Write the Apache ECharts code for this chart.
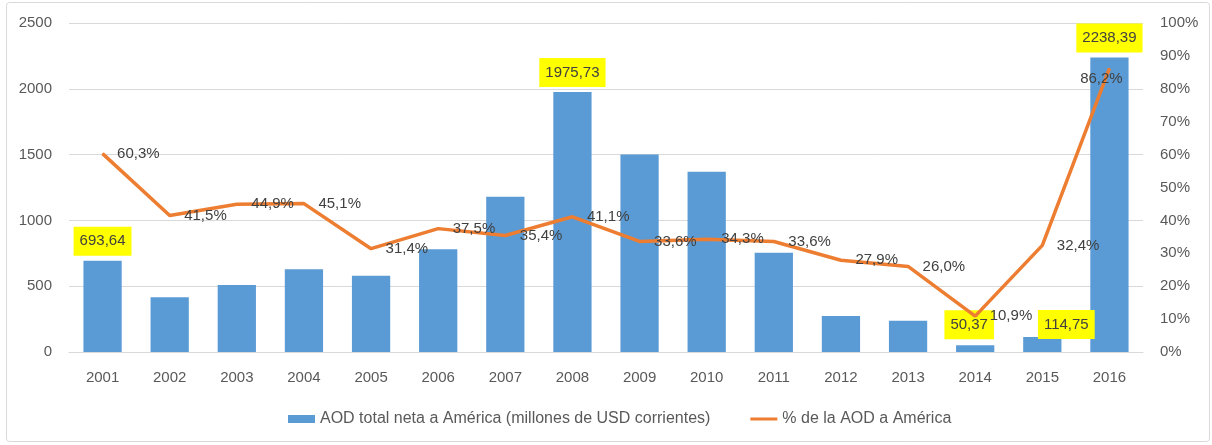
<!DOCTYPE html>
<html><head><meta charset="utf-8">
<script src="https://cdn.jsdelivr.net/npm/echarts@6/dist/echarts.min.js"></script>
<style>html,body{margin:0;padding:0;background:#fff;}#c{width:1212px;height:445px;}</style>
</head><body><div id="c"></div>
<script>
const years = ['2001','2002','2003','2004','2005','2006','2007','2008','2009','2010','2011','2012','2013','2014','2015','2016'];
const aodTotal = [693.64, 416, 509, 628, 580, 780, 1180, 1975.73, 1500, 1370, 755, 274, 238, 50.37, 114.75, 2238.39];
const aodPct = [60.3, 41.5, 44.9, 45.1, 31.4, 37.5, 35.4, 41.1, 33.6, 34.3, 33.6, 27.9, 26.0, 10.9, 32.4, 86.2];
const labelledYears = ['2001','2008','2014','2015','2016'];
const leftTicks = [0, 500, 1000, 1500, 2000, 2500];
const rightTicks = [0, 10, 20, 30, 40, 50, 60, 70, 80, 90, 100];
const seriesNames = ['AOD total neta a América (millones de USD corrientes)', '% de la AOD a América'];

const FONT = 'Liberation Sans';
const fmtComma = (v, d) => v.toFixed(d).replace('.', ',');

const barLabelOffsets = { '2014': [-6, -1], '2015': [24, 7] };
const barData = aodTotal.map((v, i) => {
  const y = years[i];
  const item = { value: v };
  if (labelledYears.includes(y)) {
    item.label = {
      show: true, position: 'top', distance: 5,
      offset: barLabelOffsets[y] || [0, 0],
      backgroundColor: '#ffff00', padding: [7, 6],
      color: '#404040', fontFamily: FONT, fontSize: 15,
      formatter: p => fmtComma(p.value, 2)
    };
  }
  return item;
});
const lineData = aodPct.map((v, i) => {
  const item = { value: v };
  if (years[i] === '2016') {
    item.label = { position: 'bottom', offset: [-8, -12] };
  }
  return item;
});

const chart = echarts.init(document.getElementById('c'), null, { renderer: 'canvas' });
chart.setOption({
  animation: false,
  backgroundColor: '#fff',
  textStyle: { fontFamily: FONT },
  graphic: [{
    type: 'rect', shape: { x: 6.5, y: 2.5, width: 1203, height: 439, r: 3 },
    style: { fill: 'none', stroke: '#d9d9d9', lineWidth: 1 }, silent: true
  }],
  grid: { left: 69, right: 69, top: 23, bottom: 93 },
  legend: {
    bottom: 13, left: 283, itemGap: 40, itemWidth: 27, itemHeight: 8,
    textStyle: { color: '#595959', fontSize: 16, fontFamily: FONT },
    data: [
      { name: seriesNames[0], icon: 'rect' },
      { name: seriesNames[1], icon: 'path://M0,0 L27,0 L27,3 L0,3 Z', itemStyle: { color: '#ed7d31' } }
    ]
  },
  xAxis: {
    type: 'category', data: years,
    axisLine: { lineStyle: { color: '#d9d9d9' } },
    axisTick: { show: false },
    axisLabel: { color: '#595959', fontSize: 15, margin: 18, fontFamily: FONT }
  },
  yAxis: [{
    type: 'value', min: leftTicks[0], max: leftTicks[leftTicks.length - 1], interval: 500,
    axisLine: { show: false }, axisTick: { show: false },
    splitLine: { lineStyle: { color: '#d9d9d9' } },
    axisLabel: { color: '#595959', fontSize: 15, margin: 17, fontFamily: FONT, formatter: v => String(v) }
  }, {
    type: 'value', min: rightTicks[0], max: rightTicks[rightTicks.length - 1], interval: 10,
    axisLine: { show: false }, axisTick: { show: false },
    splitLine: { show: false },
    axisLabel: { color: '#595959', fontSize: 15, margin: 17, fontFamily: FONT, formatter: v => v + '%' }
  }],
  series: [{
    name: seriesNames[0], type: 'bar', data: barData, barWidth: '57%',
    itemStyle: { color: '#5b9bd5' }, z: 2
  }, {
    name: seriesNames[1], type: 'line', yAxisIndex: 1, data: lineData,
    symbol: 'circle', symbolSize: 1, showSymbol: true,
    itemStyle: { color: '#ed7d31' },
    lineStyle: { color: '#ed7d31', width: 3.5 },
    label: {
      show: true, position: 'right', distance: 14,
      color: '#404040', fontSize: 15, fontFamily: FONT,
      formatter: p => fmtComma(p.value, 1) + '%'
    },
    z: 3
  }]
});
</script>
</body></html>
